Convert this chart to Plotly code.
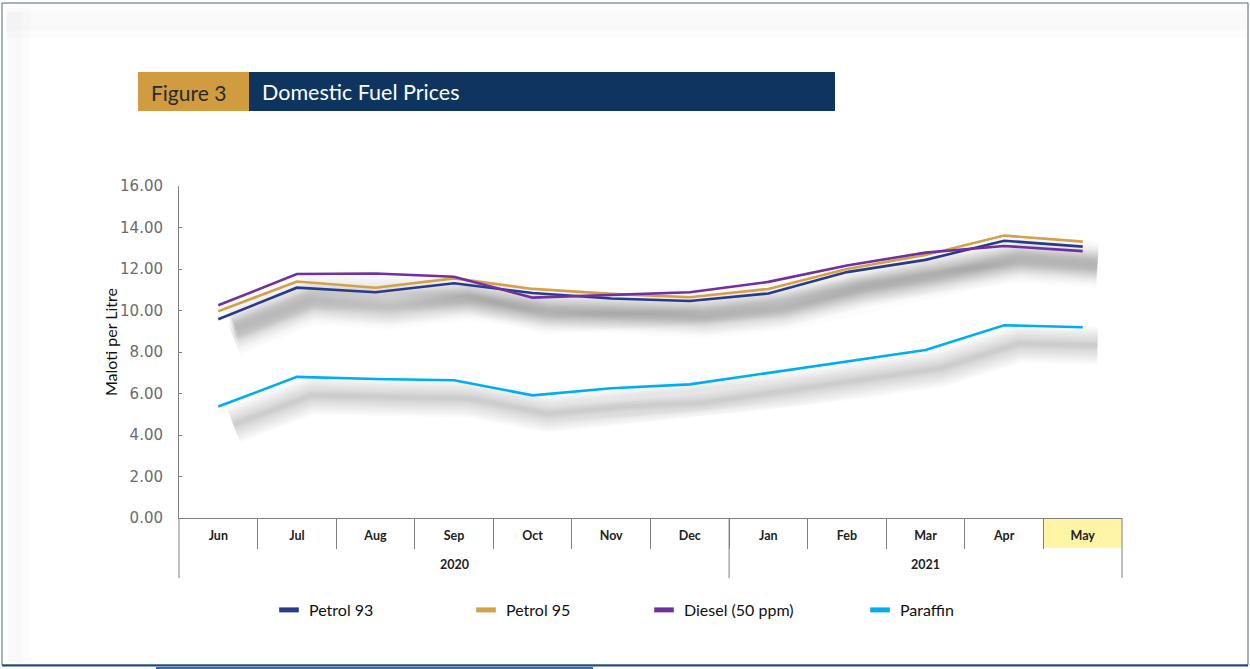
import plotly.graph_objects as go

# ---------------- data ----------------
months = ["Jun", "Jul", "Aug", "Sep", "Oct", "Nov", "Dec", "Jan", "Feb", "Mar", "Apr", "May"]
years = ["2020", "2021"]
months_per_year = [7, 5]
series_names = ["Petrol 93", "Petrol 95", "Diesel (50 ppm)", "Paraffin"]
petrol93 = [9.58, 11.10, 10.88, 11.31, 10.84, 10.58, 10.46, 10.82, 11.85, 12.44, 13.36, 13.08]
petrol95 = [9.96, 11.40, 11.10, 11.55, 11.04, 10.80, 10.64, 11.04, 12.00, 12.68, 13.61, 13.32]
diesel = [10.25, 11.76, 11.78, 11.63, 10.62, 10.75, 10.88, 11.38, 12.17, 12.79, 13.11, 12.86]
paraffin = [5.37, 6.80, 6.70, 6.64, 5.91, 6.25, 6.44, 7.00, 7.55, 8.10, 9.29, 9.19]
y_ticks = [0, 2, 4, 6, 8, 10, 12, 14, 16]

colors = ["#283A8E", "#D4A04A", "#7030A0", "#00AEEF"]
values = [petrol93, petrol95, diesel, paraffin]
shadow_strength = [0.12, 0.12, 0.12, 0.17]

# ---------------- geometry helpers (pixels -> paper) ----------------
W, H = 1250, 669
ML, MR, MT, MB = 179, 128, 186, 151
PW, PH = W - ML - MR, H - MT - MB


def px(x):
    return (x - ML) / PW


def py(y):
    return (H - MB - y) / PH


xs = list(range(len(months)))
fig = go.Figure()

# soft drop shadows under the lines
sdx, sdy = 0.19, -0.88
widths = [38, 34, 30, 26, 22, 18, 14, 10, 7, 4]
for vals, s in zip(values, shadow_strength):
    a = 1 - (1 - s) ** (1 / len(widths))
    for w in widths:
        fig.add_trace(go.Scatter(
            x=[x + sdx for x in xs], y=[v + sdy for v in vals], mode="lines",
            line=dict(color=f"rgba(0,0,0,{a:.4f})", width=w),
            hoverinfo="skip", showlegend=False))

# main lines
for name, vals, c in zip(series_names, values, colors):
    fig.add_trace(go.Scatter(x=xs, y=vals, mode="lines", name=name,
                             line=dict(color=c, width=2.6), showlegend=False))

# legend-only entries
legend_widths = [152, 133, 171, 100]
for name, c, lw in zip(series_names, colors, legend_widths):
    fig.add_trace(go.Scatter(x=[None], y=[None], mode="markers", name=name,
                             legendwidth=lw,
                             marker=dict(symbol="line-ew", size=14, color=c,
                                         line=dict(color=c, width=5))))

axis_col = "#808080"
lab_font = "Lato, Roboto, sans-serif"
fig.update_layout(
    width=W, height=H,
    margin=dict(l=ML, r=MR, t=MT, b=MB),
    paper_bgcolor="white", plot_bgcolor="white",
    showlegend=True,
    hovermode=False,
    legend=dict(orientation="h", x=px(269), xanchor="left", y=py(610), yanchor="middle",
                font=dict(family="Lato, Open Sans, sans-serif", size=16, color="#111"),
                itemwidth=30, bgcolor="rgba(0,0,0,0)"),
    xaxis=dict(range=[-0.5, len(months) - 0.5], tickmode="array", tickvals=xs, ticktext=months,
               showgrid=False, zeroline=False, showline=True, linecolor=axis_col, linewidth=1,
               ticks="", ticklabelstandoff=6,
               tickfont=dict(family=lab_font, size=12.5, color="#222", weight="bold"),
               minor=dict(tickmode="array", tickvals=[i + 0.5 for i in range(len(months) - 1)],
                          ticks="outside", ticklen=30, tickcolor=axis_col, tickwidth=1, showgrid=False)),
    yaxis=dict(range=[0, 16], tickmode="array", tickvals=y_ticks,
               ticktext=[f"{v:.2f}" for v in y_ticks],
               showgrid=False, zeroline=False, showline=True, linecolor=axis_col, linewidth=1,
               ticks="inside", ticklen=3, tickcolor=axis_col, ticklabelstandoff=12,
               tickfont=dict(family="DejaVu Sans, Verdana, sans-serif", size=15, color="#6b6b6b")),
)

shapes = []
# highlighted May cell
shapes.append(dict(type="rect", xref="x", yref="paper", x0=len(months) - 1.5, x1=len(months) - 0.5,
                   y0=py(519), y1=py(548), fillcolor="#FFF5A6", line=dict(width=0), layer="below"))
# year dividers
shapes.append(dict(type="line", xref="paper", yref="paper", x0=0, x1=0, y0=0, y1=py(578),
                   line=dict(color=axis_col, width=1)))
shapes.append(dict(type="line", xref="paper", yref="paper", x0=1, x1=1, y0=0, y1=py(578),
                   line=dict(color=axis_col, width=1)))
shapes.append(dict(type="line", xref="x", yref="paper", x0=months_per_year[0] - 0.5,
                   x1=months_per_year[0] - 0.5, y0=0, y1=py(578),
                   line=dict(color=axis_col, width=1)))

# page frame & soft inner shadow
for (x0, y0, x1, y1, a) in [(6, 8, 1246, 38, 0.010), (6, 12, 1246, 30, 0.012),
                            (6, 8, 30, 662, 0.010), (8, 12, 22, 662, 0.012)]:
    shapes.append(dict(type="rect", xref="paper", yref="paper", x0=px(x0), x1=px(x1), y0=py(y0), y1=py(y1),
                       fillcolor=f"rgba(0,0,0,{a})", line=dict(width=0), layer="below"))
shapes.append(dict(type="rect", xref="paper", yref="paper", x0=px(2), x1=px(1248), y0=py(3), y1=py(665),
                   line=dict(color="#4A6584", width=1)))
shapes.append(dict(type="line", xref="paper", yref="paper", x0=px(2), x1=px(1248), y0=py(665.5), y1=py(665.5),
                   line=dict(color="#1F4A7A", width=2)))
shapes.append(dict(type="line", xref="paper", yref="paper", x0=px(156), x1=px(593), y0=py(668), y1=py(668),
                   line=dict(color="#2E6FB0", width=2)))

# title banner
shapes.append(dict(type="rect", xref="paper", yref="paper", x0=px(138), x1=px(249), y0=py(72), y1=py(111),
                   fillcolor="#D19C40", line=dict(width=0)))
shapes.append(dict(type="rect", xref="paper", yref="paper", x0=px(249), x1=px(835), y0=py(72), y1=py(111),
                   fillcolor="#0D355F", line=dict(width=0)))
fig.update_layout(shapes=shapes)

annotations = [
    dict(text="Figure 3", xref="paper", yref="paper", x=px(149), y=py(92), xanchor="left", yanchor="middle",
         showarrow=False, font=dict(family="Lato, Open Sans, sans-serif", size=21, color="#2a2a2a")),
    dict(text="Domestic Fuel Prices", xref="paper", yref="paper", x=px(260), y=py(92), xanchor="left",
         yanchor="middle", showarrow=False,
         font=dict(family="Lato, Open Sans, sans-serif", size=21.5, color="white")),
    dict(text="Maloti per Litre", xref="paper", yref="paper", x=px(110), y=py(342), textangle=-90,
         xanchor="center", yanchor="middle", showarrow=False,
         font=dict(family="Lato, Open Sans, sans-serif", size=16, color="#111")),
]
start = 0
for yr, n in zip(years, months_per_year):
    annotations.append(dict(text=yr, xref="x", yref="paper", x=start + (n - 1) / 2, y=py(564),
                            xanchor="center", yanchor="middle", showarrow=False,
                            font=dict(family=lab_font, size=12.5, color="#222", weight="bold")))
    start += n
fig.update_layout(annotations=annotations)

fig.write_html("out.html", config={"displayModeBar": False},
               post_script="document.body.style.margin='0px';")
